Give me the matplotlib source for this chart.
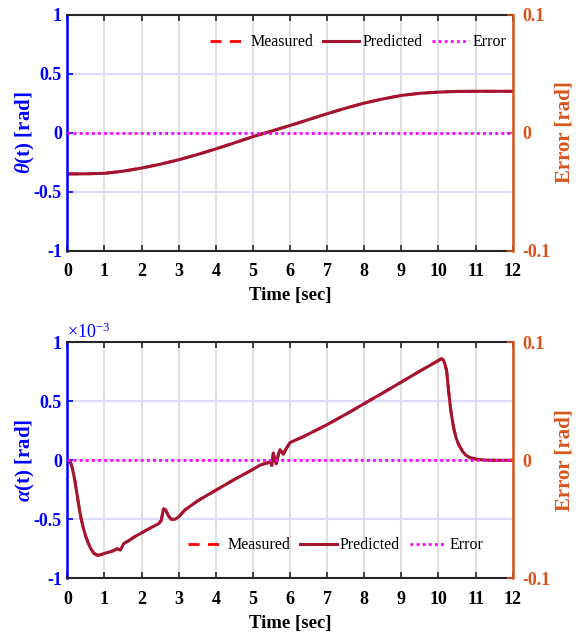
import matplotlib.pyplot as plt
from matplotlib.lines import Line2D

plt.rcParams['font.family'] = 'Liberation Serif'
plt.rcParams['mathtext.fontset'] = 'custom'
plt.rcParams['mathtext.rm'] = 'Liberation Serif'
plt.rcParams['mathtext.it'] = 'Liberation Serif:italic:bold'
plt.rcParams['mathtext.bf'] = 'Liberation Serif:bold'
plt.rcParams['axes.unicode_minus'] = False

# link angle theta [rad]
t_theta = [0, 0.5, 1, 1.5, 2, 2.5, 3, 3.5, 4, 4.5, 5, 5.5, 6, 6.5, 7, 7.5, 8,
           8.5, 9, 9.5, 10, 10.5, 11, 11.5, 12]
theta = [-0.35, -0.349, -0.345, -0.327, -0.30, -0.268, -0.23, -0.186, -0.138,
         -0.087, -0.034, 0.013, 0.06, 0.11, 0.16, 0.207, 0.25, 0.285, 0.315,
         0.333, 0.343, 0.349, 0.35, 0.35, 0.35]

# deflection angle alpha [x1e-3 rad]
t_alpha = [0, 0.03, 0.06, 0.10, 0.15, 0.20, 0.25, 0.30, 0.36, 0.43, 0.50, 0.56,
           0.63, 0.72, 0.81, 0.9, 0.99, 1.1, 1.21, 1.34, 1.43, 1.52, 1.66, 1.8,
           1.97, 2.2, 2.46, 2.53, 2.59, 2.65, 2.72, 2.8, 2.9, 3.0, 3.17, 3.53,
           4.0, 4.5, 4.93, 5.2, 5.42, 5.47, 5.51, 5.55, 5.59, 5.63, 5.68, 5.73,
           5.78, 5.82, 5.9, 6.0, 6.36, 6.99, 7.62, 8.0, 8.5, 8.96, 9.5, 10.0,
           10.06, 10.09, 10.13, 10.17, 10.22, 10.27, 10.33, 10.38, 10.42, 10.48,
           10.55, 10.64, 10.73, 10.85, 11.0, 11.2, 11.4, 12]
alpha = [0, 0, -0.005, -0.03, -0.09, -0.17, -0.27, -0.37, -0.48, -0.575, -0.65,
         -0.70, -0.75, -0.79, -0.805, -0.80, -0.79, -0.78, -0.77, -0.75, -0.76,
         -0.705, -0.68, -0.65, -0.62, -0.58, -0.537, -0.51, -0.41, -0.42, -0.47,
         -0.50, -0.50, -0.48, -0.42, -0.34, -0.254, -0.163, -0.09, -0.04, -0.02,
         -0.01, -0.045, 0.06, 0.0, -0.03, 0.04, 0.09, 0.07, 0.05, 0.10, 0.15,
         0.20, 0.30, 0.41, 0.48, 0.57, 0.655, 0.755, 0.845, 0.858, 0.86, 0.85,
         0.82, 0.76, 0.60, 0.43, 0.33, 0.26, 0.185, 0.13, 0.08, 0.045, 0.022,
         0.01, 0.003, 0.0, 0.0]

t_err = [0, 12]
err = [0, 0]

x_ticks = list(range(13))
left_ticks = [-1, -0.5, 0, 0.5, 1]
left_labels = ['-1', '-0.5', '0', '0.5', '1']
right_ticks = [-0.1, 0, 0.1]
right_labels = ['-0.1', '0', '0.1']

blue = '#0000ff'
orange = '#d95319'
pred_col = '#a2142f'
dark = '#262626'

fig = plt.figure(figsize=(5.76, 6.33), dpi=100)


def make_panel(rect, t, y, ylabel, leg_pos):
    ax = fig.add_axes(rect)
    ax.plot(t, y, color='red', lw=2, ls=(0, (4, 3)))
    ax.plot(t, y, color=pred_col, lw=2.2)
    ax.set_xlim(0, 12)
    ax.set_ylim(-1, 1)
    ax.set_xticks(x_ticks)
    ax.set_yticks(left_ticks)
    ax.set_yticklabels(left_labels)
    ax.xaxis.grid(True, color='#e0e0e0', lw=1.5)
    ax.yaxis.grid(True, color='#dcdcf8', lw=1.5)
    ax.set_axisbelow(True)
    ax.tick_params(axis='x', direction='in', top=True, length=4, width=1.2,
                   color=dark, labelsize=13, pad=9)
    ax.tick_params(axis='y', direction='in', length=4, width=1.2,
                   color=blue, labelcolor=blue, labelsize=13, pad=4)
    for lab in ax.get_xticklabels() + ax.get_yticklabels():
        lab.set_fontweight('bold')
    for s in ['top', 'bottom']:
        ax.spines[s].set_color(dark)
        ax.spines[s].set_linewidth(1.5)
    ax.spines['left'].set_color(blue)
    ax.spines['left'].set_linewidth(1.8)
    ax.spines['right'].set_visible(False)
    ax.set_xlabel('Time [sec]', fontsize=13.5, fontweight='bold')
    ax.xaxis.set_label_coords(0.5, -0.155)
    ax.set_ylabel(ylabel, fontsize=15, fontweight='bold', color=blue)
    ax.yaxis.set_label_coords(-0.068, 0.5)

    ax_r = ax.twinx()
    ax_r.plot(t_err, err, color='magenta', lw=2, ls=(0, (1, 1.2)))
    ax_r.set_ylim(-0.1, 0.1)
    ax_r.set_yticks(right_ticks)
    ax_r.set_yticklabels(right_labels)
    ax_r.tick_params(axis='y', direction='in', length=4, width=1.2,
                     color=orange, labelcolor=orange, labelsize=13, pad=7)
    for lab in ax_r.get_yticklabels():
        lab.set_fontweight('bold')
    for s in ['top', 'bottom', 'left']:
        ax_r.spines[s].set_visible(False)
    ax_r.spines['right'].set_color(orange)
    ax_r.spines['right'].set_linewidth(1.8)
    ax_r.set_ylabel('Error [rad]', fontsize=15, fontweight='bold', color=orange)
    ax_r.yaxis.set_label_coords(1.095, 0.5)

    handles = [Line2D([], [], color='red', lw=2, ls=(0, (4, 3))),
               Line2D([], [], color=pred_col, lw=2.2),
               Line2D([], [], color='magenta', lw=2, ls=(0, (1, 1.2)))]
    ax_r.legend(handles, ['Measured', 'Predicted', 'Error'], loc='center',
                bbox_to_anchor=leg_pos, ncol=3, frameon=False, fontsize=11.5,
                handlelength=2.3, handletextpad=0.2, columnspacing=0.6,
                borderpad=0, borderaxespad=0)
    return ax


ax1 = make_panel([0.117, 0.604, 0.773, 0.373], t_theta, theta,
                 r'$\theta$(t) [rad]', (0.653, 0.883))
ax2 = make_panel([0.117, 0.0864, 0.773, 0.373], t_alpha, alpha,
                 r'$\alpha$(t) [rad]', (0.602, 0.14))
ax2.text(0.0, 1.018, r'$\times10^{-3}$', transform=ax2.transAxes,
         color=blue, fontsize=13, ha='left', va='baseline')

fig.savefig('out.png', dpi=100)
